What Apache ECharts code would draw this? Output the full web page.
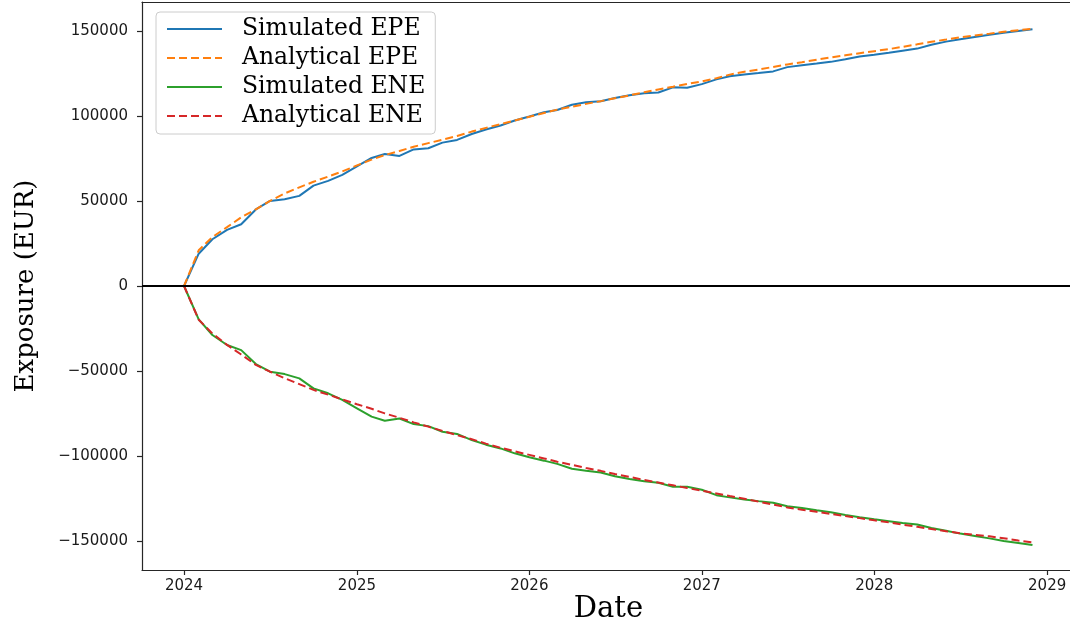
<!DOCTYPE html>
<html>
<head>
<meta charset="utf-8">
<title>Exposure profile</title>
<script src="https://cdn.jsdelivr.net/npm/echarts@6/dist/echarts.min.js"></script>
<style>
  html, body { margin: 0; padding: 0; background: #ffffff; }
  #chart { width: 1070px; height: 624px; }
</style>
</head>
<body>
<div id="chart"></div>
<script>
// Monthly exposure dates
const dates = [
  '2024-01-01','2024-02-01','2024-03-01','2024-04-01','2024-05-01','2024-06-01',
  '2024-07-01','2024-08-01','2024-09-01','2024-10-01','2024-11-01','2024-12-01',
  '2025-01-01','2025-02-01','2025-03-01','2025-04-01','2025-05-01','2025-06-01',
  '2025-07-01','2025-08-01','2025-09-01','2025-10-01','2025-11-01','2025-12-01',
  '2026-01-01','2026-02-01','2026-03-01','2026-04-01','2026-05-01','2026-06-01',
  '2026-07-01','2026-08-01','2026-09-01','2026-10-01','2026-11-01','2026-12-01',
  '2027-01-01','2027-02-01','2027-03-01','2027-04-01','2027-05-01','2027-06-01',
  '2027-07-01','2027-08-01','2027-09-01','2027-10-01','2027-11-01','2027-12-01',
  '2028-01-01','2028-02-01','2028-03-01','2028-04-01','2028-05-01','2028-06-01',
  '2028-07-01','2028-08-01','2028-09-01','2028-10-01','2028-11-01','2028-12-01'
];

// Expected positive exposure (EUR)
const simulatedEPE = [
  0, 19000, 27500, 33000, 36300, 45000, 50000, 51000, 53000, 59000, 61800, 65300,
  70300, 75300, 77600, 76500, 80300, 81000, 84300, 85900, 89400, 92000, 94400, 97300,
  99700, 102200, 103500, 106600, 108000, 108600, 110500, 112200, 113300, 113800, 116800, 116600,
  118700, 121500, 123300, 124300, 125200, 126200, 128700, 129800, 130800, 131800, 133300, 134900,
  136000, 137200, 138400, 139600, 141900, 143700, 145100, 146400, 147700, 148900, 150000, 151000
];
const analyticalEPE = [
  0, 21000, 28800, 34600, 40400, 45100, 50000, 54400, 58000, 61300, 64300, 67400,
  70900, 74300, 77000, 79400, 81900, 84000, 86000, 88200, 90800, 93000, 95200, 97300,
  99500, 101700, 103700, 105400, 107100, 108700, 110400, 112100, 113900, 115600, 117200, 118800,
  120300, 122200, 124300, 126000, 127300, 128800, 130300, 131600, 133100, 134400, 135700, 136900,
  138100, 139300, 140600, 142100, 143600, 144900, 146200, 147300, 148400, 149500, 150400, 151200
];

// Expected negative exposure (EUR)
const simulatedENE = [
  0, -19600, -28800, -34700, -37700, -45900, -50400, -51800, -54300, -60200, -63100, -67000,
  -71900, -76800, -79200, -77900, -81200, -82400, -85700, -87000, -90600, -93300, -95500, -98400,
  -100700, -102700, -104600, -107500, -108700, -109700, -111900, -113500, -114800, -115700, -118000, -118100,
  -119800, -123000, -124300, -125500, -126500, -127400, -129500, -130500, -131900, -133000, -134600, -136000,
  -137200, -138300, -139400, -140300, -142300, -143900, -145600, -147000, -148400, -149900, -151100, -152300
];
const analyticalENE = [
  0, -19800, -27900, -34600, -40300, -46400, -50400, -54200, -57700, -61100, -63900, -66700,
  -69500, -72200, -74900, -77500, -80200, -82700, -85200, -87700, -90100, -92700, -95100, -97200,
  -99300, -101400, -103300, -105200, -107000, -108700, -110600, -112300, -114000, -115600, -117200, -118800,
  -120400, -122000, -123500, -125100, -126800, -128500, -130200, -131600, -132800, -134000, -135300, -136500,
  -137800, -139000, -140300, -141600, -142900, -144200, -145400, -146300, -147200, -148300, -149700, -150800
];

// Axis ticks
const yearTicks = ['2024-01-01', '2025-01-01', '2026-01-01', '2027-01-01', '2028-01-01', '2029-01-01'];
const exposureTicks = [-150000, -100000, -50000, 0, 50000, 100000, 150000];
const dateRange = ['2023-10-04', '2029-03-01'];

const seriesNames = ['Simulated EPE', 'Analytical EPE', 'Simulated ENE', 'Analytical ENE'];
const seriesColors = ['#1f77b4', '#ff7f0e', '#2ca02c', '#d62728'];
const seriesValues = [simulatedEPE, analyticalEPE, simulatedENE, analyticalENE];
const dashedSeries = [false, true, false, true];

const serif = '"DejaVu Serif", serif';
const sans = '"DejaVu Sans", sans-serif';
const spine = { show: true, onZero: false, lineStyle: { color: '#262626', width: 1.2 } };

// Dates are placed on a linear millisecond scale (UTC)
const toTime = (d) => Date.parse(d + 'T00:00:00Z');

const series = seriesNames.map((name, i) => ({
  name: name,
  type: 'line',
  xAxisIndex: 0,
  data: dates.map((d, k) => [toTime(d), seriesValues[i][k]]),
  symbol: 'none',
  smooth: false,
  z: 3 + i,
  lineStyle: {
    color: seriesColors[i],
    width: 2,
    type: dashedSeries[i] ? [8, 4] : 'solid'
  },
  itemStyle: { color: seriesColors[i] }
}));

// Horizontal reference line at zero exposure
series[0].markLine = {
  silent: true,
  symbol: 'none',
  label: { show: false },
  lineStyle: { color: '#000000', width: 2, type: 'solid' },
  data: [{ yAxis: 0 }],
  z: 10
};

const chart = echarts.init(document.getElementById('chart'), null, { renderer: 'canvas' });

chart.setOption({
  animation: false,
  backgroundColor: '#ffffff',
  grid: {
    left: 142,
    right: -5,
    top: 2,
    bottom: 54,
    outerBoundsMode: 'none',
    containLabel: false
  },
  legend: {
    data: seriesNames,
    orient: 'vertical',
    left: 156,
    top: 12,
    padding: [5, 10, 6, 10],
    itemWidth: 55,
    itemHeight: 14,
    itemGap: 5,
    itemStyle: { opacity: 0 },
    lineStyle: { width: 2 },
    backgroundColor: '#ffffff',
    borderColor: '#cccccc',
    borderWidth: 1,
    borderRadius: 4,
    textStyle: {
      fontFamily: serif,
      fontSize: 23.5,
      lineHeight: 23,
      color: '#000000',
      padding: [0, 0, 0, 15]
    }
  },
  xAxis: [{
    type: 'value',
    position: 'bottom',
    min: toTime(dateRange[0]),
    max: toTime(dateRange[1]),
    name: 'Date',
    nameLocation: 'middle',
    nameGap: 25,
    nameMoveOverlap: false,
    nameTextStyle: { fontFamily: serif, fontSize: 29, color: '#000000' },
    axisLine: spine,
    axisTick: {
      show: true,
      length: 5,
      customValues: yearTicks.map(toTime),
      lineStyle: { color: '#262626', width: 1.2 }
    },
    axisLabel: {
      customValues: yearTicks.map(toTime),
      margin: 9,
      fontFamily: sans,
      fontSize: 15,
      color: '#1a1a1a',
      formatter: (v) => String(new Date(v).getUTCFullYear())
    },
    splitLine: { show: false }
  }, {
    // top frame edge
    type: 'value',
    position: 'top',
    min: toTime(dateRange[0]),
    max: toTime(dateRange[1]),
    axisLine: spine,
    axisTick: { show: false },
    axisLabel: { show: false },
    splitLine: { show: false }
  }],
  yAxis: {
    type: 'value',
    min: -167000,
    max: 167000,
    name: 'Exposure (EUR)',
    nameLocation: 'middle',
    nameRotate: 90,
    nameGap: 103,
    nameMoveOverlap: false,
    nameTextStyle: { fontFamily: serif, fontSize: 26, color: '#000000' },
    axisLine: spine,
    axisTick: {
      show: true,
      length: 5,
      customValues: exposureTicks,
      lineStyle: { color: '#262626', width: 1.2 }
    },
    axisLabel: {
      customValues: exposureTicks,
      margin: 14,
      fontFamily: sans,
      fontSize: 15,
      color: '#1a1a1a',
      formatter: (v) => String(v).replace('-', '\u2212')
    },
    splitLine: { show: false }
  },
  series: series
});
</script>
</body>
</html>
